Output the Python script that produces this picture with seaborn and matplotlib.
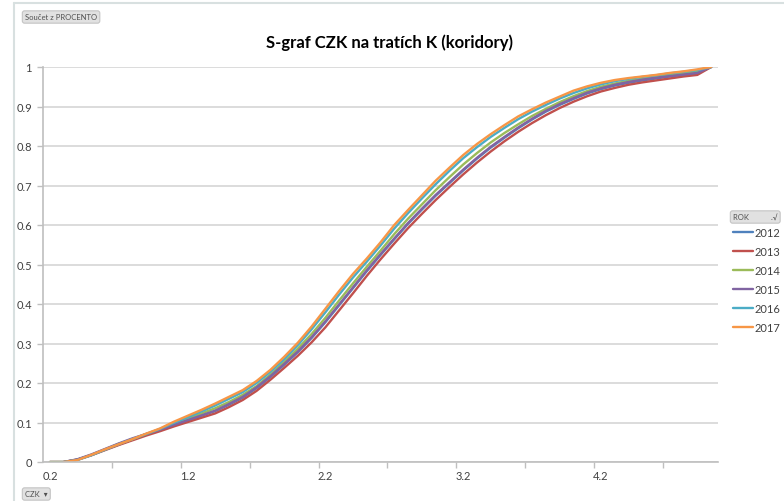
import numpy as np
import pandas as pd
import matplotlib
matplotlib.use("Agg")
import matplotlib.pyplot as plt
from matplotlib.lines import Line2D
from matplotlib.ticker import FixedLocator, FuncFormatter
import seaborn as sns

# ---------------- data ----------------
czk = [0.2, 0.3, 0.4, 0.5, 0.6, 0.7, 0.8, 0.9, 1.0, 1.1, 1.2, 1.3, 1.4, 1.5, 1.6, 1.7,
       1.8, 1.9, 2.0, 2.1, 2.2, 2.3, 2.4, 2.5, 2.6, 2.7, 2.8, 2.9, 3.0, 3.1, 3.2, 3.3,
       3.4, 3.5, 3.6, 3.7, 3.8, 3.9, 4.0, 4.1, 4.2, 4.3, 4.4, 4.5, 4.6, 4.7, 4.8, 4.9, 5.0]

y2012 = [0, 0, 0.006, 0.017, 0.031, 0.044, 0.057, 0.069, 0.081, 0.093, 0.105, 0.117, 0.129,
         0.145, 0.163, 0.187, 0.215, 0.246, 0.278, 0.314, 0.354, 0.397, 0.440, 0.483, 0.524,
         0.564, 0.603, 0.639, 0.674, 0.706, 0.738, 0.768, 0.796, 0.821, 0.845, 0.867, 0.887,
         0.904, 0.919, 0.933, 0.944, 0.953, 0.960, 0.966, 0.971, 0.976, 0.980, 0.984, 1.0]
y2013 = [0, 0, 0.006, 0.017, 0.030, 0.043, 0.055, 0.067, 0.078, 0.090, 0.101, 0.112, 0.123,
         0.139, 0.157, 0.180, 0.208, 0.238, 0.269, 0.303, 0.341, 0.384, 0.427, 0.471, 0.513,
         0.553, 0.592, 0.628, 0.663, 0.696, 0.728, 0.758, 0.786, 0.812, 0.836, 0.858, 0.878,
         0.896, 0.912, 0.926, 0.938, 0.947, 0.955, 0.961, 0.966, 0.971, 0.976, 0.980, 1.0]
y2014 = [0, 0, 0.006, 0.018, 0.032, 0.046, 0.058, 0.071, 0.083, 0.097, 0.110, 0.123, 0.136,
         0.152, 0.170, 0.192, 0.221, 0.253, 0.287, 0.324, 0.365, 0.409, 0.452, 0.494, 0.535,
         0.577, 0.616, 0.652, 0.688, 0.721, 0.753, 0.782, 0.809, 0.833, 0.855, 0.876, 0.894,
         0.911, 0.926, 0.939, 0.950, 0.958, 0.965, 0.970, 0.975, 0.980, 0.984, 0.988, 1.0]
y2015 = [np.nan, 0, 0.007, 0.019, 0.033, 0.047, 0.060, 0.071, 0.082, 0.094, 0.106, 0.118,
         0.130, 0.147, 0.165, 0.189, 0.217, 0.248, 0.280, 0.316, 0.356, 0.399, 0.442, 0.485,
         0.526, 0.566, 0.605, 0.641, 0.676, 0.708, 0.740, 0.770, 0.798, 0.823, 0.847, 0.869,
         0.889, 0.906, 0.921, 0.935, 0.946, 0.955, 0.962, 0.968, 0.973, 0.977, 0.981, 0.985, 1.0]
y2016 = [np.nan, 0, 0.005, 0.017, 0.031, 0.045, 0.058, 0.071, 0.084, 0.099, 0.113, 0.128,
         0.143, 0.160, 0.177, 0.200, 0.228, 0.260, 0.296, 0.336, 0.379, 0.424, 0.467, 0.507,
         0.548, 0.591, 0.630, 0.667, 0.703, 0.737, 0.769, 0.797, 0.823, 0.846, 0.868, 0.887,
         0.904, 0.920, 0.934, 0.946, 0.956, 0.964, 0.970, 0.975, 0.979, 0.984, 0.988, 0.992, 1.0]
y2017 = [np.nan, 0, 0.005, 0.018, 0.032, 0.045, 0.058, 0.072, 0.085, 0.102, 0.117, 0.132,
         0.148, 0.165, 0.182, 0.205, 0.233, 0.266, 0.302, 0.343, 0.388, 0.433, 0.476, 0.515,
         0.556, 0.600, 0.638, 0.675, 0.712, 0.745, 0.777, 0.805, 0.830, 0.853, 0.875, 0.893,
         0.910, 0.925, 0.940, 0.951, 0.960, 0.967, 0.972, 0.976, 0.980, 0.985, 0.989, 0.994, 1.0]

years = ["2012", "2013", "2014", "2015", "2016", "2017"]
series = [y2012, y2013, y2014, y2015, y2016, y2017]
colors = ["#4F81BD", "#C0504D", "#9BBB59", "#8064A2", "#4BACC6", "#F79646"]

x_tick_labels = ["0.2", "1.2", "2.2", "3.2", "4.2"]
title = "S-graf CZK na tratích K (koridory)"

df = pd.DataFrame({
    "CZK": np.tile(czk, len(years)),
    "PROCENTO": np.concatenate([np.array(s, dtype=float) for s in series]),
    "ROK": np.repeat(years, len(czk)),
})

# ---------------- style ----------------
sns.set_theme(style="white")
plt.rcParams["font.family"] = ["Lato", "DejaVu Sans"]

W, H = 784, 502
fig = plt.figure(figsize=(W / 100, H / 100), dpi=100)
fig.patch.set_facecolor("white")

ax_l, ax_r, ax_t, ax_b = 43, 718, 68, 463
ax = fig.add_axes([ax_l / W, 1 - ax_b / H, (ax_r - ax_l) / W, (ax_b - ax_t) / H])

sns.lineplot(data=df, x="CZK", y="PROCENTO", hue="ROK", hue_order=years,
             palette=dict(zip(years, colors)), linewidth=1.7, ax=ax,
             legend=True, estimator=None, sort=False)

ax.set_xlim(0.15, 5.05)
ax.set_ylim(0, 1)
ax.set_xlabel("")
ax.set_ylabel("")

# y axis
yt = np.round(np.arange(0, 1.01, 0.1), 1)
ax.set_yticks(yt)
ax.yaxis.set_major_formatter(FuncFormatter(lambda v, p: "0" if v == 0 else ("1" if v == 1 else f"{v:.1f}")))
ax.grid(axis="y", color="#d9d9d9", linewidth=1.3)
ax.set_axisbelow(True)

# x axis: labels at category centres, tick marks at boundaries
ax.set_xticks([float(t) for t in x_tick_labels])
ax.set_xticklabels(x_tick_labels)
ax.xaxis.set_minor_locator(FixedLocator([0.15 + 0.5 * k for k in range(1, 10)]))
ax.tick_params(axis="x", which="major", length=0, pad=6, labelsize=8, labelcolor="#404040")
ax.tick_params(axis="x", which="minor", length=4, width=1, color="#bfbfbf", direction="out", bottom=True)
ax.tick_params(axis="y", which="major", length=4, width=1, color="#bfbfbf", direction="out",
               left=True, pad=4, labelsize=8, labelcolor="#404040")

for s in ["top", "right"]:
    ax.spines[s].set_visible(False)
for s in ["left", "bottom"]:
    ax.spines[s].set_color("#bfbfbf")
    ax.spines[s].set_linewidth(1.2)

# legend
handles, labels = ax.get_legend_handles_labels()
ax.get_legend().remove()
leg = fig.legend(handles, labels, loc="upper left", bbox_to_anchor=(731 / W, 1 - 226 / H),
                 frameon=False, fontsize=8, handlelength=1.8, handletextpad=0.15,
                 labelspacing=0.72, borderaxespad=0, borderpad=0.2)
for t in leg.get_texts():
    t.set_color("#404040")

# title
fig.text(390 / W, 1 - 43 / H, title, ha="center", va="center", fontsize=12,
         fontweight="bold", color="#000000")

# pivot-chart buttons
btn = dict(boxstyle="round,pad=0.35,rounding_size=0.3", facecolor="#e1e1e1", edgecolor="#c4c4c4", linewidth=0.8)
fig.text(25 / W, 1 - 18 / H, "Součet z PROCENTO", ha="left", va="center", fontsize=5.5,
         color="#505050", bbox=btn)
fig.text(25 / W, 1 - 495 / H, "CZK  \u25be", ha="left", va="center", fontsize=5.5,
         color="#505050", bbox=btn)
fig.text(733 / W, 1 - 218 / H, "ROK           .\u221a", ha="left", va="center", fontsize=5.5,
         color="#505050", bbox=btn)

# outer chart frame (left and top)
fig.add_artist(Line2D([14 / W, 1], [1 - 4 / H, 1 - 4 / H], transform=fig.transFigure,
                      color="#d8e0e0", linewidth=1.5))
fig.add_artist(Line2D([14 / W, 14 / W], [0, 1 - 4 / H], transform=fig.transFigure,
                      color="#d8e0e0", linewidth=1.5))

fig.savefig("out.png", dpi=100)
